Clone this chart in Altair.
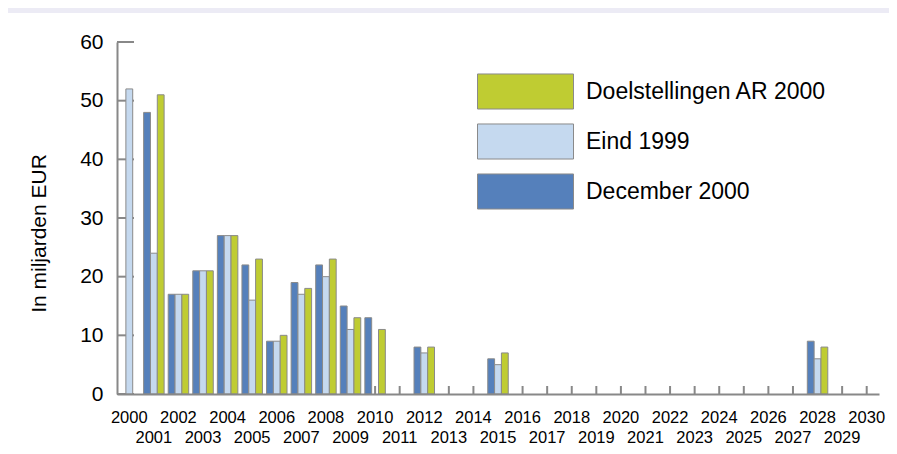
import altair as alt
import pandas as pd

# ---- data ----
years = list(range(2000, 2031))
series = ["December 2000", "Eind 1999", "Doelstellingen AR 2000"]

dec_years = [2001, 2002, 2003, 2004, 2005, 2006, 2007, 2008, 2009, 2010, 2012, 2015, 2028]
dec_vals = [48, 17, 21, 27, 22, 9, 19, 22, 15, 13, 8, 6, 9]

eind_years = [2000, 2001, 2002, 2003, 2004, 2005, 2006, 2007, 2008, 2009, 2012, 2015, 2028]
eind_vals = [52, 24, 17, 21, 27, 16, 9, 17, 20, 11, 7, 5, 6]

doel_years = [2001, 2002, 2003, 2004, 2005, 2006, 2007, 2008, 2009, 2010, 2012, 2015, 2028]
doel_vals = [51, 17, 21, 27, 23, 10, 18, 23, 13, 11, 8, 7, 8]

y_ticks = [0, 10, 20, 30, 40, 50, 60]

colors = {"December 2000": "#5580BB", "Eind 1999": "#C5D9EF", "Doelstellingen AR 2000": "#BFCC32"}
legend_order = ["Doelstellingen AR 2000", "Eind 1999", "December 2000"]

rows = []
for s, ys, vs in [(series[0], dec_years, dec_vals), (series[1], eind_years, eind_vals), (series[2], doel_years, doel_vals)]:
    for y, v in zip(ys, vs):
        rows.append({"year": y, "series": s, "value": v})
bars_df = pd.DataFrame(rows)
years_df = pd.DataFrame({"year": years})
yt_df = pd.DataFrame({"v": y_ticks})

W, H = 762, 352
GRAY = "#888888"

x_scale = alt.Scale(domain=years, paddingInner=0, paddingOuter=0)
y_scale = alt.Scale(domain=[0, 60], nice=False)

x_axis = alt.Axis(
    title=None,
    labelAngle=0,
    ticks=False,
    grid=False,
    domainColor=GRAY,
    domainWidth=2,
    labelFontSize=16.5,
    labelColor="black",
    labelBaseline="top",
    labelPadding=15,
    labelLineHeight=20,
    labelOverlap=False,
    labelFlush=False,
    labelExpr="datum.value % 2 == 0 ? [datum.label, ''] : ['', datum.label]",
    zindex=1,
)

y_axis = alt.Axis(
    title="In miljarden EUR",
    values=y_ticks,
    ticks=False,
    grid=False,
    domainColor=GRAY,
    domainWidth=2,
    labelFontSize=21,
    labelColor="black",
    labelPadding=14,
    titleFontSize=21,
    titleFontWeight="normal",
    titleColor="black",
    titleX=-72,
    titleY=191,
    titleAngle=270,
    titleAlign="center",
    titleBaseline="alphabetic",
    zindex=1,
)

bg = alt.Chart(pd.DataFrame({"a": [0]})).mark_rect(fill="white").encode(
    x=alt.value(-115), x2=alt.value(W + 20), y=alt.value(-29), y2=alt.value(H + 70)
)

xticks = alt.Chart(years_df).mark_rule(color=GRAY, strokeWidth=2).encode(
    x=alt.X("year:O", scale=x_scale, axis=x_axis),
    y=alt.value(H),
    y2=alt.value(H - 8),
)

yticks = alt.Chart(yt_df).mark_rule(color=GRAY, strokeWidth=2).encode(
    y=alt.Y("v:Q", scale=y_scale, axis=y_axis),
    x=alt.value(0),
    x2=alt.value(17),
)

bars = alt.Chart(bars_df).mark_bar(stroke="#8a8a8a", strokeWidth=1).encode(
    x=alt.X("year:O", scale=x_scale, axis=x_axis),
    xOffset=alt.XOffset("series:N", sort=series, scale=alt.Scale(domain=series, paddingInner=0, paddingOuter=0.3)),
    y=alt.Y("value:Q", scale=y_scale, axis=y_axis),
    color=alt.Color(
        "series:N",
        scale=alt.Scale(domain=legend_order, range=[colors[s] for s in legend_order]),
        legend=alt.Legend(
            title=None,
            orient="none",
            legendX=384,
            legendY=25,
            direction="vertical",
            symbolType="M-2,-0.73H2V0.73H-2Z",
            symbolSize=2304,
            symbolStrokeColor="#8a8a8a",
            symbolStrokeWidth=1,
            symbolOpacity=1,
            labelFontSize=23,
            labelColor="black",
            labelOffset=36,
            rowPadding=5,
            padding=0,
            labelLimit=400,
        ),
    ),
)

chart = (
    alt.layer(bg, xticks, yticks, bars)
    .properties(
        width=W,
        height=H,
        padding={"left": 109, "top": 34, "right": 10, "bottom": 50},
        autosize=alt.AutoSizeParams(type="none"),
        background="#ECEBF5",
    )
    .configure(font="Liberation Sans")
    .configure_view(stroke=None)
)

chart.save("out.html", embed_options={"renderer": "svg", "actions": False})
